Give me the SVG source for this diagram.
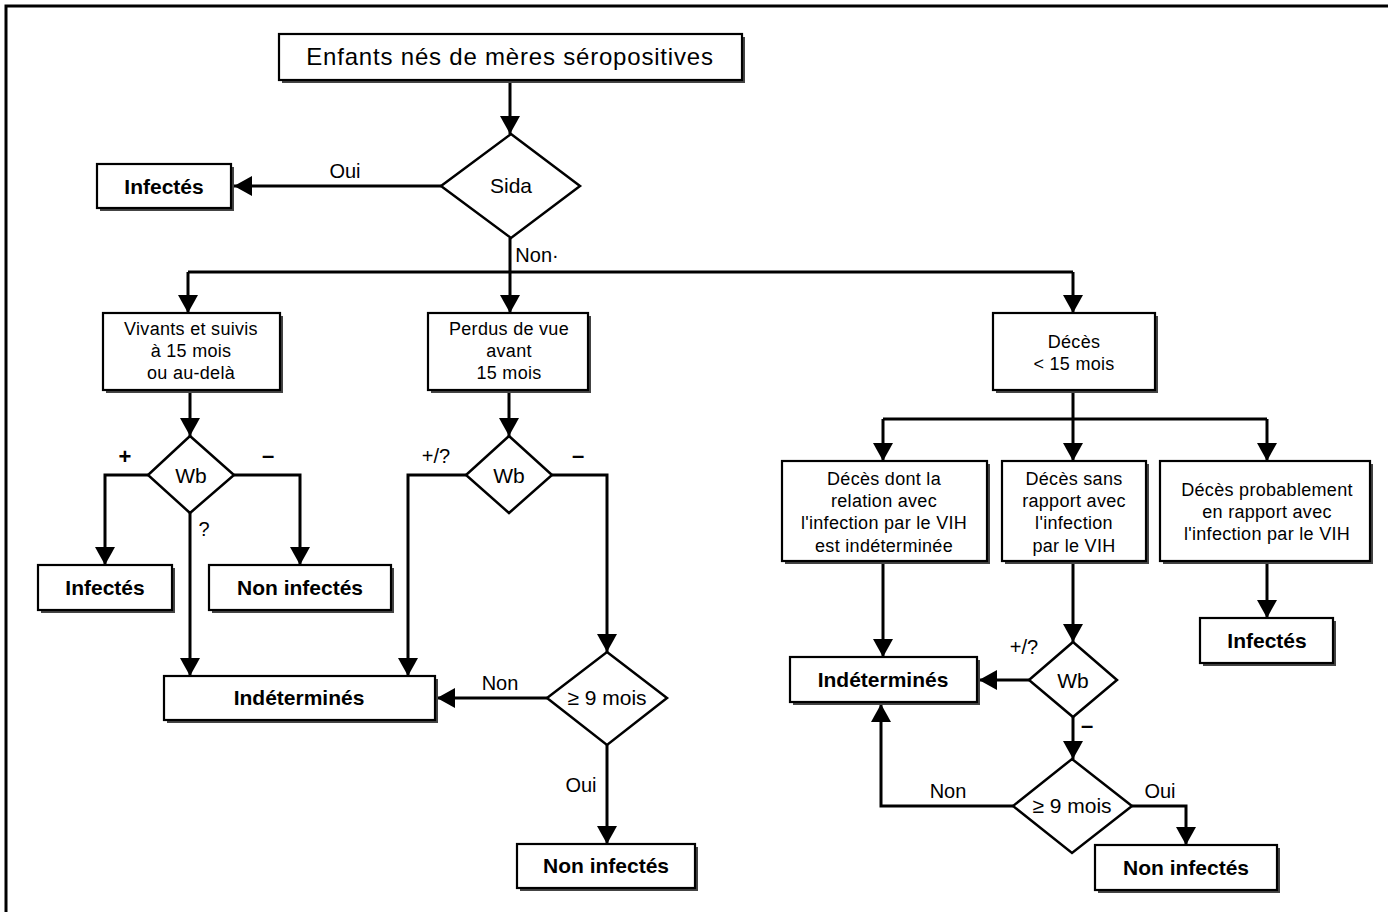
<svg xmlns="http://www.w3.org/2000/svg" width="1388" height="912" viewBox="0 0 1388 912">
<style>
.bg{fill:#fff}
.frame{fill:none;stroke:#000;stroke-width:3}
.box{fill:#fff;stroke:#000;stroke-width:2.2}
.shd{fill:#444}
.dia{fill:#fff;stroke:#000;stroke-width:2.5}
.ln{fill:none;stroke:#000;stroke-width:3}
.arr{fill:none;stroke:#000;stroke-width:3;marker-end:url(#ah)}
text{font-family:"Liberation Sans",Arial,sans-serif;fill:#000;text-anchor:middle}
.t{font-size:24px;letter-spacing:0.8px}
.b{font-size:21px;font-weight:bold}
.r{font-size:18px;letter-spacing:0.3px}
.d{font-size:21px}
.l{font-size:20px}
.m{font-size:22px;font-weight:bold}
</style>
<defs>
<marker id="ah" viewBox="0 0 18 20" refX="18" refY="10" markerWidth="18" markerHeight="20" markerUnits="userSpaceOnUse" orient="auto">
<path d="M0,0 L18,10 L0,20 z" fill="#000"/>
</marker>
</defs>
<rect class="bg" x="0" y="0" width="1388" height="912"/>
<path class="frame" d="M6,912 V6 H1388"/>

<g id="connectors">
<path class="arr" d="M510,81 V134"/>
<path class="arr" d="M441,186 H234"/>
<path class="ln" d="M510,238 V272 M188,272 H1073"/>
<path class="arr" d="M188,272 V313"/>
<path class="arr" d="M510,272 V313"/>
<path class="arr" d="M1073,272 V313"/>
<path class="arr" d="M190,390 V436"/>
<path class="arr" d="M148,475 H105 V565"/>
<path class="arr" d="M234,475 H300 V565"/>
<path class="arr" d="M190,513 V676"/>
<path class="arr" d="M509,390 V436"/>
<path class="arr" d="M466,475 H408 V676"/>
<path class="arr" d="M552,475 H607 V652"/>
<path class="arr" d="M547,698 H437"/>
<path class="arr" d="M607,745 V844"/>
<path class="ln" d="M1073,390 V419 M883,419 H1267"/>
<path class="arr" d="M883,419 V461"/>
<path class="arr" d="M1073,419 V461"/>
<path class="arr" d="M1267,419 V461"/>
<path class="arr" d="M883,561 V657"/>
<path class="arr" d="M1073,561 V642"/>
<path class="arr" d="M1029,680 H979"/>
<path class="arr" d="M1073,717 V759"/>
<path class="arr" d="M1013,806 H881 V704"/>
<path class="arr" d="M1132,806 H1186 V845"/>
<path class="arr" d="M1267,561 V618"/>
</g>

<g id="labels">
<text class="l" x="345" y="178">Oui</text>
<text class="l" x="537" y="262">Non·</text>
<text class="m" x="125" y="464">+</text>
<text class="m" x="268" y="463">–</text>
<text class="l" x="204" y="536">?</text>
<text class="l" x="436" y="463">+/?</text>
<text class="m" x="578" y="463">–</text>
<text class="l" x="500" y="690">Non</text>
<text class="l" x="581" y="792">Oui</text>
<text class="l" x="1024" y="654">+/?</text>
<text class="m" x="1087" y="733">–</text>
<text class="l" x="948" y="798">Non</text>
<text class="l" x="1160" y="798">Oui</text>
</g>

<g id="n-title">
<rect class="shd" x="282" y="37" width="463" height="46"/>
<rect class="box" x="279" y="34" width="463" height="46"/>
<text class="t" x="510" y="65">Enfants nés de mères séropositives</text>
</g>
<g id="n-sida">
<polygon class="dia" points="511,134 580,186 511,238 441,186"/>
<text class="d" x="511" y="193">Sida</text>
</g>
<g id="n-infectes1">
<rect class="shd" x="100" y="167" width="134" height="44"/>
<rect class="box" x="97" y="164" width="134" height="44"/>
<text class="b" x="164" y="194">Infectés</text>
</g>
<g id="n-vivants">
<rect class="shd" x="106" y="316" width="177" height="77"/>
<rect class="box" x="103" y="313" width="177" height="77"/>
<text class="r" x="191" y="335">Vivants et suivis</text>
<text class="r" x="191" y="357">à 15 mois</text>
<text class="r" x="191" y="379">ou au-delà</text>
</g>
<g id="n-perdus">
<rect class="shd" x="431" y="316" width="160" height="77"/>
<rect class="box" x="428" y="313" width="160" height="77"/>
<text class="r" x="509" y="335">Perdus de vue</text>
<text class="r" x="509" y="357">avant</text>
<text class="r" x="509" y="379">15 mois</text>
</g>
<g id="n-deces">
<rect class="shd" x="996" y="316" width="162" height="77"/>
<rect class="box" x="993" y="313" width="162" height="77"/>
<text class="r" x="1074" y="348">Décès</text>
<text class="r" x="1074" y="370">&lt; 15 mois</text>
</g>
<g id="n-wb1">
<polygon class="dia" points="190,436 234,475 190,513 148,475"/>
<text class="d" x="191" y="483">Wb</text>
</g>
<g id="n-infectes2">
<rect class="shd" x="41" y="568" width="134" height="45"/>
<rect class="box" x="38" y="565" width="134" height="45"/>
<text class="b" x="105" y="595">Infectés</text>
</g>
<g id="n-noninf1">
<rect class="shd" x="212" y="568" width="182" height="45"/>
<rect class="box" x="209" y="565" width="182" height="45"/>
<text class="b" x="300" y="595">Non infectés</text>
</g>
<g id="n-wb2">
<polygon class="dia" points="509,436 552,475 509,513 466,475"/>
<text class="d" x="509" y="483">Wb</text>
</g>
<g id="n-indet1">
<rect class="shd" x="167" y="679" width="271" height="44"/>
<rect class="box" x="164" y="676" width="271" height="44"/>
<text class="b" x="299" y="705">Indéterminés</text>
</g>
<g id="n-mois1">
<polygon class="dia" points="607,652 667,698 607,745 547,698"/>
<text class="d" x="607" y="705">≥ 9 mois</text>
</g>
<g id="n-noninf2">
<rect class="shd" x="520" y="847" width="178" height="44"/>
<rect class="box" x="517" y="844" width="178" height="44"/>
<text class="b" x="606" y="873">Non infectés</text>
</g>
<g id="n-box1">
<rect class="shd" x="785" y="464" width="205" height="100"/>
<rect class="box" x="782" y="461" width="205" height="100"/>
<text class="r" x="884" y="485">Décès dont la</text>
<text class="r" x="884" y="507">relation avec</text>
<text class="r" x="884" y="529">l'infection par le VIH</text>
<text class="r" x="884" y="552">est indéterminée</text>
</g>
<g id="n-box2">
<rect class="shd" x="1005" y="464" width="144" height="100"/>
<rect class="box" x="1002" y="461" width="144" height="100"/>
<text class="r" x="1074" y="485">Décès sans</text>
<text class="r" x="1074" y="507">rapport avec</text>
<text class="r" x="1074" y="529">l'infection</text>
<text class="r" x="1074" y="552">par le VIH</text>
</g>
<g id="n-box3">
<rect class="shd" x="1163" y="464" width="210" height="100"/>
<rect class="box" x="1160" y="461" width="210" height="100"/>
<text class="r" x="1267" y="496">Décès probablement</text>
<text class="r" x="1267" y="518">en rapport avec</text>
<text class="r" x="1267" y="540">l'infection par le VIH</text>
</g>
<g id="n-indet2">
<rect class="shd" x="793" y="660" width="187" height="45"/>
<rect class="box" x="790" y="657" width="187" height="45"/>
<text class="b" x="883" y="687">Indéterminés</text>
</g>
<g id="n-wb3">
<polygon class="dia" points="1073,642 1117,680 1073,717 1029,680"/>
<text class="d" x="1073" y="688">Wb</text>
</g>
<g id="n-mois2">
<polygon class="dia" points="1072,759 1132,806 1072,853 1013,806"/>
<text class="d" x="1072" y="813">≥ 9 mois</text>
</g>
<g id="n-noninf3">
<rect class="shd" x="1098" y="848" width="182" height="45"/>
<rect class="box" x="1095" y="845" width="182" height="45"/>
<text class="b" x="1186" y="875">Non infectés</text>
</g>
<g id="n-infectes3">
<rect class="shd" x="1203" y="621" width="133" height="45"/>
<rect class="box" x="1200" y="618" width="133" height="45"/>
<text class="b" x="1267" y="648">Infectés</text>
</g>
</svg>
